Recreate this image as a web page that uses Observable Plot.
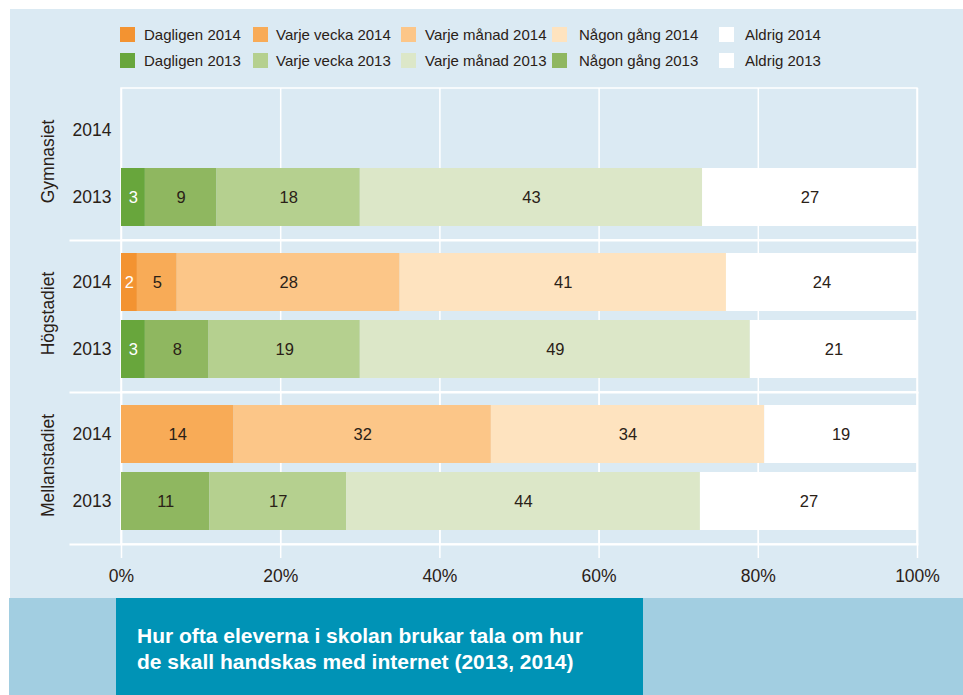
<!DOCTYPE html>
<html>
<head>
<meta charset="utf-8">
<script src="https://cdn.jsdelivr.net/npm/d3@7"></script>
<script src="https://cdn.jsdelivr.net/npm/@observablehq/plot@0.6"></script>
<style>
  html, body { margin: 0; padding: 0; background: #ffffff; }
  #wrap { position: relative; width: 963px; height: 695px; overflow: hidden;
          font-family: "Liberation Sans", Arial, Helvetica, sans-serif; color: #2a2117; }
  #panel { position: absolute; left: 10px; top: 9px; width: 953px; height: 589px; background: #dbeaf3; }
  #chart { position: absolute; left: 0; top: 0; }
  #chart svg { background: transparent !important; }
  #band { position: absolute; left: 9px; top: 598px; width: 954px; height: 97px; background: #a2cee1; }
  #titlebox { position: absolute; left: 116px; top: 598px; width: 527px; height: 97px; background: #0093b6; }
  #title { position: absolute; left: 137px; top: 623px; color: #ffffff; font-weight: bold;
           font-size: 21px; line-height: 26px; white-space: nowrap; }
  .sw { position: absolute; width: 15px; height: 15px; }
  .lt { position: absolute; font-size: 15px; line-height: 15px; white-space: nowrap; }
</style>
</head>
<body>
<div id="wrap">
  <div id="panel"></div>
  <div id="legend"></div>
  <div id="chart"></div>
  <div id="band"></div>
  <div id="titlebox"></div>
  <div id="title">Hur ofta eleverna i skolan brukar tala om hur<br>de skall handskas med internet (2013, 2014)</div>
</div>
<script>
// ---------- data ----------
const groups = ["Gymnasiet", "Högstadiet", "Mellanstadiet"];
const years = ["2014", "2013"];
const categories = ["Dagligen", "Varje vecka", "Varje månad", "Någon gång", "Aldrig"];

const gymnasiet2014 = [];
const gymnasiet2013 = [3, 9, 18, 43, 27];
const hogstadiet2014 = [2, 5, 28, 41, 24];
const hogstadiet2013 = [3, 8, 19, 49, 21];
const mellanstadiet2014 = [0, 14, 32, 34, 19];
const mellanstadiet2013 = [0, 11, 17, 44, 27];

const xTicks = [0, 0.2, 0.4, 0.6, 0.8, 1];

// ---------- styles ----------
const colors2014 = ["#f39331", "#f8ab57", "#fcc688", "#fee3bf", "#ffffff"];
const colors2013 = ["#68a63c", "#8fb760", "#b5d08f", "#dce7c8", "#ffffff"];
const legendColors2014 = ["#f39331", "#f8ab57", "#fcc688", "#fee3bf", "#ffffff"];
const legendColors2013 = ["#68a63c", "#b5d08f", "#dce7c8", "#8fb760", "#ffffff"];
const FONT = '"Liberation Sans", Arial, Helvetica, sans-serif';
const INK = "#2a2117";

// ---------- table ----------
const series = [
  {group: "Gymnasiet", year: "2014", values: gymnasiet2014},
  {group: "Gymnasiet", year: "2013", values: gymnasiet2013},
  {group: "Högstadiet", year: "2014", values: hogstadiet2014},
  {group: "Högstadiet", year: "2013", values: hogstadiet2013},
  {group: "Mellanstadiet", year: "2014", values: mellanstadiet2014},
  {group: "Mellanstadiet", year: "2013", values: mellanstadiet2013}
];
const rows = series.flatMap(s => s.values.map((v, i) => ({
  group: s.group, year: s.year, cat: categories[i], key: categories[i] + " " + s.year, value: v
}))).filter(d => d.value > 0);

const colorDomain = [...categories.map(c => c + " 2014"), ...categories.map(c => c + " 2013")];
const colorRange = [...colors2014, ...colors2013];

// ---------- legend ----------
const legend = document.getElementById("legend");
const swX = [120, 253, 401, 552, 719];
const txX = [144, 276, 425, 579, 745];
const rowTop = [27, 53];
[[categories.map(c => c + " 2014"), legendColors2014], [categories.map(c => c + " 2013"), legendColors2013]]
  .forEach(([labels, cols], r) => {
    labels.forEach((lab, i) => {
      const sw = document.createElement("div");
      sw.className = "sw";
      sw.style.left = swX[i] + "px"; sw.style.top = rowTop[r] + "px"; sw.style.background = cols[i];
      legend.appendChild(sw);
      const t = document.createElement("div");
      t.className = "lt";
      t.style.left = txX[i] + "px"; t.style.top = rowTop[r] + "px";
      t.textContent = lab;
      legend.appendChild(t);
    });
  });

// ---------- chart ----------
const stackOpts = {x: "value", y: "year", fy: "group", z: "cat", offset: "normalize"};
const last = groups[groups.length - 1];

const plot = Plot.plot({
  width: 963,
  height: 598,
  marginTop: 88,
  marginBottom: 54,
  marginLeft: 70,
  marginRight: 46,
  style: {fontFamily: FONT, fontSize: "17.5px", color: INK, background: "transparent", overflow: "visible"},
  x: {domain: [0, 1], range: [121, 917], axis: null},
  y: {domain: years, paddingInner: 0.134, paddingOuter: 0.2, axis: null},
  fy: {domain: groups, padding: 0, axis: null},
  color: {type: "ordinal", domain: colorDomain, range: colorRange},
  marks: [
    Plot.ruleX(xTicks, {stroke: "white", strokeWidth: 1.5}),
    Plot.ruleX(xTicks.map(t => ({t, g: last})), {x: "t", fy: "g", stroke: "white", strokeWidth: 1.5, insetBottom: -14}),
    Plot.barX([0], {x1: 0, x2: 1, fill: "none", stroke: "white", strokeWidth: 1.5}),
    Plot.frame({anchor: "bottom", stroke: "white", strokeWidth: 2}),
    Plot.barX(rows, Plot.stackX({...stackOpts, fill: "key"})),
    Plot.text(rows, Plot.filter(d => d.cat === "Dagligen",
      Plot.stackX({...stackOpts, text: "value", fill: "white", fontSize: 16.5}))),
    Plot.text(rows, Plot.filter(d => d.cat !== "Dagligen",
      Plot.stackX({...stackOpts, text: "value", fill: INK, fontSize: 16.5}))),
    Plot.axisY({tickSize: 0, tickPadding: 10, dx: 51, fontSize: 17.5, label: null}),
    Plot.axisX(xTicks, {anchor: "bottom", tickSize: 0, tickPadding: 25, fontSize: 17.5, label: null, tickFormat: d3.format(".0%")}),
    Plot.text(groups, {fy: d => d, text: d => d, frameAnchor: "left", textAnchor: "middle", rotate: -90, dx: -22, dy: -3, fontSize: 17.5, fill: INK})
  ]
});
document.getElementById("chart").appendChild(plot);
</script>
</body>
</html>
